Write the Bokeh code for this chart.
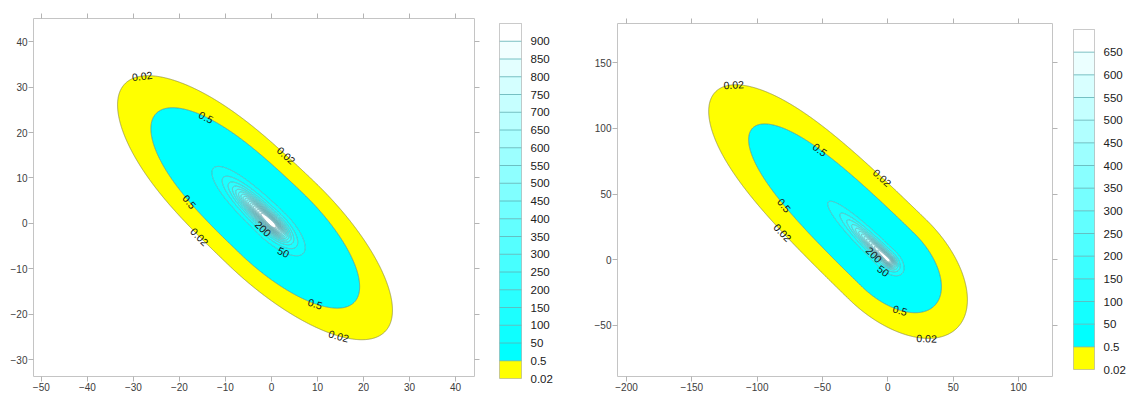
import numpy as np
from bokeh.plotting import figure
from bokeh.layouts import row
from bokeh.models import Range1d, LinearAxis, FixedTicker
from bokeh.core.properties import value
from bokeh.embed import file_html
from bokeh.resources import INLINE

# ---------------- data ----------------
left_levels = [0.02, 0.5, 50, 100, 150, 200, 250, 300, 350, 400, 450, 500,
               550, 600, 650, 700, 750, 800, 850, 900]
right_levels = [0.02, 0.5, 50, 100, 150, 200, 250, 300, 350, 400, 450, 500,
                550, 600, 650]
left_xticks = [-50, -40, -30, -20, -10, 0, 10, 20, 30, 40]
left_yticks = [-30, -20, -10, 0, 10, 20, 30, 40]
right_xticks = [-200, -150, -100, -50, 0, 50, 100]
right_yticks = [-50, 0, 50, 100, 150]
left_xlim = (-51.7, 44.1)
left_ylim = (-33.7, 45.1)
right_xlim = (-206.9, 126.0)
right_ylim = (-88.8, 179.7)

# density field parameters (peak height, major-axis angle, minor spread,
# skew of the long tail, tail decay, core size)
left_peak = 1000.0
left_angle = -44.0
left_minor = 0.381
left_skew_ratio = 1.0
left_skew_shift = 10.0
left_skew_width = 6.0
left_gauss = 0.00448
left_power = 2.38
left_core = 3.33

right_peak = 700.0
right_angle = -44.0
right_minor = 0.57
right_skew_ratio = 1.45
right_skew_shift = 78.0
right_skew_width = 20.0
right_gauss = 0.000741
right_power = 2.52
right_core = 5.88

# inline contour labels: level and angular position around the peak (deg)
left_label_levels = [0.02, 0.02, 0.02, 0.02, 0.5, 0.5, 0.5, 200, 50]
left_label_angles = [163, 96, -97, -36, 133, -110, -40, -92, -49]
right_label_levels = [0.02, 0.5, 0.02, 0.5, 0.02, 200, 50, 0.5, 0.02]
right_label_angles = [161, 122, 98, -117, -104, -104, -77, -48, -32]

FONT = "Liberation Sans"


def params(peak, angle, minor, ratio, shift, width, gauss, power, core):
    return dict(peak=peak, angle=angle, minor=minor, ratio=ratio, shift=shift,
                width=width, gauss=gauss, power=power, core=core)


PL = params(left_peak, left_angle, left_minor, left_skew_ratio, left_skew_shift,
            left_skew_width, left_gauss, left_power, left_core)
PR = params(right_peak, right_angle, right_minor, right_skew_ratio,
            right_skew_shift, right_skew_width, right_gauss, right_power,
            right_core)


def u_from_g(g, P):
    g = np.asarray(g, dtype=float)
    gn = np.minimum(g, 0.0)
    neg = P["ratio"] * gn - P["shift"] * (1 - np.exp(gn / P["width"]))
    return np.where(g >= 0, g, neg)


def g_from_u(u, P):
    gt = np.linspace(-800.0, 0.0, 80001)
    ut = u_from_g(gt, P)
    gneg = np.interp(u, ut, gt)
    return np.where(u >= 0, u, gneg)


def profile(rho, P):
    return P["peak"] * np.exp(-P["gauss"] * rho ** 2) / (1 + (rho / P["core"]) ** P["power"])


def field(X, Y, P):
    th = np.deg2rad(P["angle"])
    u = X * np.cos(th) + Y * np.sin(th)
    v = -X * np.sin(th) + Y * np.cos(th)
    g = g_from_u(u, P)
    rho = np.hypot(g, v / P["minor"])
    return profile(rho, P)


def rho_at(level, P):
    lo, hi = 0.0, 3000.0
    for _ in range(100):
        mid = 0.5 * (lo + hi)
        if profile(mid, P) > level:
            lo = mid
        else:
            hi = mid
    return 0.5 * (lo + hi)


def point_at(level, phi_deg, P):
    r = rho_at(level, P)
    ph = np.deg2rad(phi_deg)
    g = r * np.cos(ph)
    v = P["minor"] * r * np.sin(ph)
    u = float(u_from_g(g, P))
    th = np.deg2rad(P["angle"])
    return u * np.cos(th) - v * np.sin(th), u * np.sin(th) + v * np.cos(th)


def label_data(levels, angles, P, sx, sy):
    xs, ys, ts, angs = [], [], [], []
    for L, a in zip(levels, angles):
        x, y = point_at(L, a, P)
        x1, y1 = point_at(L, a + 0.5, P)
        x0, y0 = point_at(L, a - 0.5, P)
        ang = np.arctan2((y1 - y0) * sy, (x1 - x0) * sx)
        if ang > np.pi / 2:
            ang -= np.pi
        if ang < -np.pi / 2:
            ang += np.pi
        xs.append(x)
        ys.append(y)
        ts.append(f"{L:g}")
        angs.append(float(ang))
    return dict(x=xs, y=ys, text=ts, angle=angs)


def band_colors(n_levels):
    # yellow for the lowest band, then cyan fading to white
    n = n_levels - 1
    cols = ["#ffff00"]
    for i in range(n):
        t = i / (n - 1)
        r = int(round(255 * t))
        cols.append("#%02x%02x%02x" % (r, 255, 255))
    return cols


def style_axis(ax, labels=True):
    ax.axis_line_color = None
    ax.major_tick_line_color = "#b4b4b4"
    ax.major_tick_out = 5
    ax.major_tick_in = 0
    ax.minor_tick_line_color = None
    ax.major_label_text_font = FONT
    ax.major_label_text_color = "#3c3c3c"
    ax.major_label_text_line_height = 1.0
    if labels:
        ax.major_label_text_font_size = "10px"
        ax.major_label_standoff = 1
    else:
        ax.major_label_text_font_size = "1px"
        ax.major_label_text_alpha = 0
        ax.major_label_text_color = None
        ax.major_label_standoff = 0


def base_fig(fw, fh, bl, br, bt, bb, xlim, ylim):
    p = figure(frame_width=fw, frame_height=fh, x_range=Range1d(*xlim),
               y_range=Range1d(*ylim), toolbar_location=None,
               output_backend="svg", x_axis_location=None,
               y_axis_location=None, min_border_left=bl, min_border_right=br,
               min_border_top=bt, min_border_bottom=bb)
    p.frame_align = False
    p.grid.visible = False
    p.background_fill_color = "white"
    p.border_fill_color = "white"
    return p


def main_fig(fw, fh, bl, br, bt, bb, xlim, ylim, xticks, yticks,
             levels, P, lab_levels, lab_angles, nx, ny):
    p = base_fig(fw, fh, bl, br, bt, bb, xlim, ylim)
    p.outline_line_color = "#c4c4c4"

    xs = np.linspace(xlim[0], xlim[1], nx)
    ys = np.linspace(ylim[0], ylim[1], ny)
    X, Y = np.meshgrid(xs, ys)
    Z = field(X, Y, P)
    lv = list(levels) + [1e7]
    fills = band_colors(len(levels))
    lines = ["#8a8a40", "#5e8a7c"] + ["#5c9fa6"] * (len(levels) - 2) + ["#ffffff"]
    p.contour(xs, ys, Z, lv, fill_color=fills, line_color=lines, line_width=0.7)

    sx = fw / (xlim[1] - xlim[0])
    sy = fh / (ylim[1] - ylim[0])
    d = label_data(lab_levels, lab_angles, P, sx, sy)
    p.text(x=d["x"], y=d["y"], text=d["text"], angle=d["angle"],
           text_align="center", text_baseline="middle",
           text_font=value(FONT), text_font_size="10.5px",
           text_color="#151515")

    for loc, tk, lab in (("below", xticks, True), ("above", xticks, False)):
        ax = LinearAxis(ticker=FixedTicker(ticks=tk))
        style_axis(ax, lab)
        p.add_layout(ax, loc)
    for loc, tk, lab in (("left", yticks, True), ("right", yticks, False)):
        ax = LinearAxis(ticker=FixedTicker(ticks=tk))
        style_axis(ax, lab)
        p.add_layout(ax, loc)
    return p


def colorbar_fig(fw, fh, bl, br, bt, bb, levels):
    n = len(levels)
    cols = band_colors(n)
    p = base_fig(fw, fh, bl, br, bt, bb, (0, 1), (0, n))
    p.outline_line_color = "#b8b8b8"
    p.quad(left=0, right=1, bottom=list(range(n)), top=list(range(1, n + 1)),
           fill_color=cols, line_color=None)
    p.segment(x0=[0] * (n - 1), x1=[1] * (n - 1), y0=list(range(1, n)),
              y1=list(range(1, n)), line_color="#5ab0b4", line_width=0.8)
    ax = LinearAxis(ticker=FixedTicker(ticks=list(range(n))),
                    major_label_overrides={i: f"{lvl:g}" for i, lvl in enumerate(levels)})
    ax.axis_line_color = None
    ax.major_tick_line_color = None
    ax.minor_tick_line_color = None
    ax.major_label_standoff = 3
    ax.major_label_text_font = FONT
    ax.major_label_text_font_size = "11.5px"
    ax.major_label_text_color = "#202020"
    p.add_layout(ax, "right")
    return p


# frame sizes and borders (px); the page itself has no margin, each figure
# is 395 px tall and the four together are 1121 px wide
fig1 = main_fig(441, 358, 33, 10, 18, 19, left_xlim, left_ylim, left_xticks,
                left_yticks, left_levels, PL, left_label_levels,
                left_label_angles, 720, 620)
cb1 = colorbar_fig(22, 355, 15, 68, 23, 17, left_levels)
fig2 = main_fig(435, 353, 28, 10, 23, 19, right_xlim, right_ylim, right_xticks,
                right_yticks, right_levels, PR, right_label_levels,
                right_label_angles, 820, 680)
cb2 = colorbar_fig(21, 340, 11, 27, 29, 26, right_levels)

layout = row(fig1, cb1, fig2, cb2)
open("out.html", "w").write(file_html(layout, INLINE))
